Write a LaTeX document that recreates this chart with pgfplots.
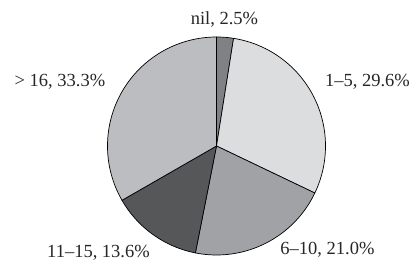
\documentclass[border=0pt]{standalone}
\usepackage{pgfplots}
\pgfplotsset{compat=1.18}
\usepackage{fontspec}
\setmainfont{Liberation Serif}
\definecolor{cNil}{HTML}{808184}
\definecolor{cA}{HTML}{DCDDDF}
\definecolor{cB}{HTML}{A1A2A5}
\definecolor{cC}{HTML}{555759}
\definecolor{cD}{HTML}{BCBDC0}
% shares (%), clockwise from 12 o'clock
\def\pNil{2.5}\def\pA{29.6}\def\pB{21.0}\def\pC{13.6}\def\pD{33.3}
\def\cx{216.5}\def\cy{118}\def\rr{109}
\begin{document}
\begin{tikzpicture}
\pgfmathsetmacro{\aO}{90}
\pgfmathsetmacro{\aI}{\aO-3.6*\pNil}
\pgfmathsetmacro{\aII}{\aI-3.6*\pA}
\pgfmathsetmacro{\aIII}{\aII-3.6*\pB}
\pgfmathsetmacro{\aIV}{\aIII-3.6*\pC}
\pgfmathsetmacro{\aV}{\aIV-3.6*\pD}
\begin{axis}[
  width=415pt, height=264pt, scale only axis,
  xmin=0, xmax=415, ymin=0, ymax=264,
  hide axis, clip=false,
  every axis plot/.append style={draw=black, line width=0.7pt, line join=round},
]
\addplot[fill=cNil, domain=\aI:\aO, samples=10] ({\cx+\rr*cos(x)},{\cy+\rr*sin(x)}) -- (axis cs:\cx,\cy) -- cycle;
\addplot[fill=cA, domain=\aII:\aI, samples=80] ({\cx+\rr*cos(x)},{\cy+\rr*sin(x)}) -- (axis cs:\cx,\cy) -- cycle;
\addplot[fill=cB, domain=\aIII:\aII, samples=60] ({\cx+\rr*cos(x)},{\cy+\rr*sin(x)}) -- (axis cs:\cx,\cy) -- cycle;
\addplot[fill=cC, domain=\aIV:\aIII, samples=40] ({\cx+\rr*cos(x)},{\cy+\rr*sin(x)}) -- (axis cs:\cx,\cy) -- cycle;
\addplot[fill=cD, domain=\aV:\aIV, samples=90] ({\cx+\rr*cos(x)},{\cy+\rr*sin(x)}) -- (axis cs:\cx,\cy) -- cycle;
\begin{scope}[every node/.style={font=\fontsize{18.5}{22}\selectfont, text=black!85, anchor=base, inner sep=0pt}]
\node at (axis cs:224.5,239) {nil, \pNil\%};
\node at (axis cs:367.5,177) {1--5, \pA\%};
\node at (axis cs:60,177) {> 16, \pD\%};
\node at (axis cs:98.5,6) {11--15, \pC\%};
\node at (axis cs:327.5,9) {6--10, \pB\%};
\end{scope}
\end{axis}
\path (current axis.south west) rectangle (current axis.north east);
\end{tikzpicture}
\end{document}
